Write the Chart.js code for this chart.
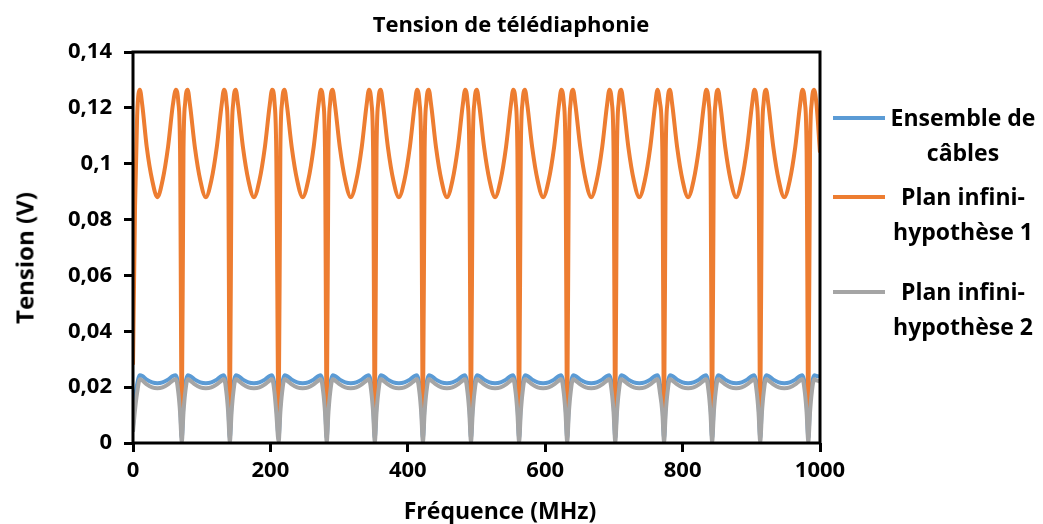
<!DOCTYPE html>
<html>
<head>
<meta charset="utf-8">
<script src="https://cdn.jsdelivr.net/npm/chart.js@4.4.1/dist/chart.umd.min.js"></script>
<style>
  body { margin: 0; background: #fff; }
  #wrap { position: relative; width: 1043px; height: 524px; font-family: 'Open Sans', sans-serif; font-weight: bold; color: #000; }
  #chart { position: absolute; left: 0; top: 0; }
  .txt { position: absolute; white-space: nowrap; }
  #title { left: 0; width: 1022px; top: 8px; text-align: center; font-size: 22px; }
  #xTitle { left: 0; width: 1000px; top: 494px; text-align: center; font-size: 23px; }
  #yTitle { left: 24px; top: 258px; font-size: 24px; transform: translate(-50%, -50%) rotate(-90deg); }
  .legItem { position: absolute; left: 833px; width: 210px; height: 80px; }
  .legLine { position: absolute; left: 0; width: 52px; height: 4px; }
  .legText { position: absolute; left: 50px; width: 160px; text-align: center; font-size: 23px; line-height: 35px; white-space: pre-line; }
</style>
</head>
<body>
<div id="wrap">
  <canvas id="chart" width="1043" height="524"></canvas>
  <div class="txt" id="title">Tension de télédiaphonie</div>
  <div class="txt" id="xTitle">Fréquence (MHz)</div>
  <div class="txt" id="yTitle">Tension (V)</div>
  <div id="legend"></div>
</div>
<script>
// Fréquence (MHz)
const freqMHz = [
  0, 3, 6, 10, 13.5, 20, 28, 35.5, 43, 51, 58, 62.5, 66, 68.5,
  71, 73.5, 76, 79.5, 83, 90, 98, 106, 114, 122, 129, 132.5, 136, 138.5,
  141, 143.5, 146, 149.5, 153, 160, 168, 176, 184, 192, 199, 202.5, 206, 208.5,
  212, 214.5, 217, 220.5, 224, 231, 239, 247, 255, 263, 270, 273.5, 277, 279.5,
  282, 284.5, 287, 290.5, 294, 301, 309, 317, 325, 333, 340, 343.5, 347, 349.5,
  352, 354.5, 357, 360.5, 364, 371, 379, 387, 395, 403, 410, 413.5, 417, 419.5,
  422, 424.5, 427, 430.5, 434, 441, 449, 457, 465, 473, 480, 483.5, 487, 489.5,
  492, 494.5, 497, 500.5, 504, 511, 519, 527, 535, 543, 550, 553.5, 557, 559.5,
  562, 564.5, 567, 570.5, 574, 581, 589, 597, 605, 613, 620, 623.5, 627, 629.5,
  632, 634.5, 637, 640.5, 644, 651, 659, 667, 675, 683, 690, 693.5, 697, 699.5,
  702, 704.5, 707, 710.5, 714, 721, 729, 737, 745, 753, 760, 763.5, 767, 770.5,
  773, 775.5, 778, 781.5, 785, 792, 800, 808, 816, 824, 831, 834.5, 838, 840.5,
  843, 845.5, 848, 851.5, 855, 862, 870, 878, 886, 894, 901, 904.5, 908, 910.5,
  913, 915.5, 918, 921.5, 925, 932, 940, 948, 956, 964, 971, 974.5, 978, 980.5,
  983, 985.5, 988, 991.5, 995, 1000
];

// Ensemble de câbles (V)
const ensembleCables = [
  0.006, 0.016, 0.021, 0.0243, 0.024, 0.0227, 0.0217, 0.0214, 0.0217, 0.0227, 0.024, 0.0243, 0.021, 0.015,
  0.002, 0.015, 0.021, 0.0243, 0.024, 0.0227, 0.0217, 0.0214, 0.0217, 0.0227, 0.024, 0.0243, 0.021, 0.015,
  0.002, 0.015, 0.021, 0.0243, 0.024, 0.0227, 0.0217, 0.0214, 0.0217, 0.0227, 0.024, 0.0243, 0.021, 0.015,
  0.002, 0.015, 0.021, 0.0243, 0.024, 0.0227, 0.0217, 0.0214, 0.0217, 0.0227, 0.024, 0.0243, 0.021, 0.015,
  0.002, 0.015, 0.021, 0.0243, 0.024, 0.0227, 0.0217, 0.0214, 0.0217, 0.0227, 0.024, 0.0243, 0.021, 0.015,
  0.002, 0.015, 0.021, 0.0243, 0.024, 0.0227, 0.0217, 0.0214, 0.0217, 0.0227, 0.024, 0.0243, 0.021, 0.015,
  0.002, 0.015, 0.021, 0.0243, 0.024, 0.0227, 0.0217, 0.0214, 0.0217, 0.0227, 0.024, 0.0243, 0.021, 0.015,
  0.002, 0.015, 0.021, 0.0243, 0.024, 0.0227, 0.0217, 0.0214, 0.0217, 0.0227, 0.024, 0.0243, 0.021, 0.015,
  0.002, 0.015, 0.021, 0.0243, 0.024, 0.0227, 0.0217, 0.0214, 0.0217, 0.0227, 0.024, 0.0243, 0.021, 0.015,
  0.002, 0.015, 0.021, 0.0243, 0.024, 0.0227, 0.0217, 0.0214, 0.0217, 0.0227, 0.024, 0.0243, 0.021, 0.015,
  0.002, 0.015, 0.021, 0.0243, 0.024, 0.0227, 0.0217, 0.0214, 0.0217, 0.0227, 0.024, 0.0243, 0.021, 0.015,
  0.002, 0.015, 0.021, 0.0243, 0.024, 0.0227, 0.0217, 0.0214, 0.0217, 0.0227, 0.024, 0.0243, 0.021, 0.015,
  0.002, 0.015, 0.021, 0.0243, 0.024, 0.0227, 0.0217, 0.0214, 0.0217, 0.0227, 0.024, 0.0243, 0.021, 0.015,
  0.002, 0.015, 0.021, 0.0243, 0.024, 0.0227, 0.0217, 0.0214, 0.0217, 0.0227, 0.024, 0.0243, 0.021, 0.015,
  0.002, 0.015, 0.021, 0.0243, 0.024, 0.0238
];

// Plan infini - hypothèse 1 (V)
const planHyp1 = [
  0.028, 0.085, 0.117, 0.1265, 0.121, 0.106, 0.094, 0.088, 0.094, 0.106, 0.121, 0.1265, 0.122, 0.105,
  0.005, 0.105, 0.122, 0.1265, 0.121, 0.106, 0.094, 0.088, 0.094, 0.106, 0.121, 0.1265, 0.122, 0.105,
  0.005, 0.105, 0.122, 0.1265, 0.121, 0.106, 0.094, 0.088, 0.094, 0.106, 0.121, 0.1265, 0.122, 0.105,
  0.005, 0.105, 0.122, 0.1265, 0.121, 0.106, 0.094, 0.088, 0.094, 0.106, 0.121, 0.1265, 0.122, 0.105,
  0.005, 0.105, 0.122, 0.1265, 0.121, 0.106, 0.094, 0.088, 0.094, 0.106, 0.121, 0.1265, 0.122, 0.105,
  0.005, 0.105, 0.122, 0.1265, 0.121, 0.106, 0.094, 0.088, 0.094, 0.106, 0.121, 0.1265, 0.122, 0.105,
  0.005, 0.105, 0.122, 0.1265, 0.121, 0.106, 0.094, 0.088, 0.094, 0.106, 0.121, 0.1265, 0.122, 0.105,
  0.005, 0.105, 0.122, 0.1265, 0.121, 0.106, 0.094, 0.088, 0.094, 0.106, 0.121, 0.1265, 0.122, 0.105,
  0.005, 0.105, 0.122, 0.1265, 0.121, 0.106, 0.094, 0.088, 0.094, 0.106, 0.121, 0.1265, 0.122, 0.105,
  0.005, 0.105, 0.122, 0.1265, 0.121, 0.106, 0.094, 0.088, 0.094, 0.106, 0.121, 0.1265, 0.122, 0.105,
  0.005, 0.105, 0.122, 0.1265, 0.121, 0.106, 0.094, 0.088, 0.094, 0.106, 0.121, 0.1265, 0.122, 0.105,
  0.005, 0.105, 0.122, 0.1265, 0.121, 0.106, 0.094, 0.088, 0.094, 0.106, 0.121, 0.1265, 0.122, 0.105,
  0.005, 0.105, 0.122, 0.1265, 0.121, 0.106, 0.094, 0.088, 0.094, 0.106, 0.121, 0.1265, 0.122, 0.105,
  0.005, 0.105, 0.122, 0.1265, 0.121, 0.106, 0.094, 0.088, 0.094, 0.106, 0.121, 0.1265, 0.122, 0.105,
  0.005, 0.105, 0.122, 0.1265, 0.121, 0.104
];

// Plan infini - hypothèse 2 (V)
const planHyp2 = [
  0.004, 0.012, 0.018, 0.0228, 0.0224, 0.021, 0.0199, 0.0196, 0.0199, 0.021, 0.0224, 0.0228, 0.018, 0.011,
  0.0005, 0.011, 0.018, 0.0228, 0.0224, 0.021, 0.0199, 0.0196, 0.0199, 0.021, 0.0224, 0.0228, 0.018, 0.011,
  0.0005, 0.011, 0.018, 0.0228, 0.0224, 0.021, 0.0199, 0.0196, 0.0199, 0.021, 0.0224, 0.0228, 0.018, 0.011,
  0.0005, 0.011, 0.018, 0.0228, 0.0224, 0.021, 0.0199, 0.0196, 0.0199, 0.021, 0.0224, 0.0228, 0.018, 0.011,
  0.0005, 0.011, 0.018, 0.0228, 0.0224, 0.021, 0.0199, 0.0196, 0.0199, 0.021, 0.0224, 0.0228, 0.018, 0.011,
  0.0005, 0.011, 0.018, 0.0228, 0.0224, 0.021, 0.0199, 0.0196, 0.0199, 0.021, 0.0224, 0.0228, 0.018, 0.011,
  0.0005, 0.011, 0.018, 0.0228, 0.0224, 0.021, 0.0199, 0.0196, 0.0199, 0.021, 0.0224, 0.0228, 0.018, 0.011,
  0.0005, 0.011, 0.018, 0.0228, 0.0224, 0.021, 0.0199, 0.0196, 0.0199, 0.021, 0.0224, 0.0228, 0.018, 0.011,
  0.0005, 0.011, 0.018, 0.0228, 0.0224, 0.021, 0.0199, 0.0196, 0.0199, 0.021, 0.0224, 0.0228, 0.018, 0.011,
  0.0005, 0.011, 0.018, 0.0228, 0.0224, 0.021, 0.0199, 0.0196, 0.0199, 0.021, 0.0224, 0.0228, 0.018, 0.011,
  0.0005, 0.011, 0.018, 0.0228, 0.0224, 0.021, 0.0199, 0.0196, 0.0199, 0.021, 0.0224, 0.0228, 0.018, 0.011,
  0.0005, 0.011, 0.018, 0.0228, 0.0224, 0.021, 0.0199, 0.0196, 0.0199, 0.021, 0.0224, 0.0228, 0.018, 0.011,
  0.0005, 0.011, 0.018, 0.0228, 0.0224, 0.021, 0.0199, 0.0196, 0.0199, 0.021, 0.0224, 0.0228, 0.018, 0.011,
  0.0005, 0.011, 0.018, 0.0228, 0.0224, 0.021, 0.0199, 0.0196, 0.0199, 0.021, 0.0224, 0.0228, 0.018, 0.011,
  0.0005, 0.011, 0.018, 0.0228, 0.0224, 0.022
];

const seriesNames = ['Ensemble de\ncâbles', 'Plan infini-\nhypothèse 1', 'Plan infini-\nhypothèse 2'];
const seriesColors = ['#5b9bd5', '#ed7d31', '#a5a5a5'];
const seriesValues = [ensembleCables, planHyp1, planHyp2];
const legendTops = [100, 179, 274];

function toPoints(values) {
    return freqMHz.map((f, i) => ({ x: f, y: values[i] }));
}

const frenchNum = v => Number(v.toFixed(2)).toString().replace('.', ',');

// cadre noir autour de la zone de tracé
const framePlugin = {
    id: 'frame',
    afterDatasetsDraw(chart) {
        const { ctx, chartArea: a } = chart;
        ctx.save();
        ctx.strokeStyle = '#000';
        ctx.lineWidth = 3;
        ctx.strokeRect(a.left, a.top, a.right - a.left, a.bottom - a.top);
        ctx.restore();
    }
};

const tickGrid = { display: true, drawOnChartArea: false, drawTicks: true, tickLength: 9, tickColor: '#000', tickWidth: 3 };
const tickFont = { family: "'Open Sans', sans-serif", size: 22, weight: 'bold' };

new Chart(document.getElementById('chart').getContext('2d'), {
    type: 'line',
    data: {
        datasets: seriesValues.map((vals, i) => ({
            label: seriesNames[i],
            data: toPoints(vals),
            borderColor: seriesColors[i],
            backgroundColor: seriesColors[i],
            borderWidth: 4,
            pointRadius: 0,
            cubicInterpolationMode: 'monotone',
            order: 3 - i
        }))
    },
    options: {
        responsive: false,
        animation: false,
        layout: { padding: { left: 0, right: 223, top: 52, bottom: 0 } },
        plugins: { legend: { display: false }, title: { display: false }, tooltip: { enabled: false } },
        scales: {
            x: {
                type: 'linear', min: 0, max: 1000,
                grid: tickGrid,
                border: { display: false },
                ticks: { stepSize: 200, color: '#000', font: tickFont, padding: 6, maxRotation: 0, callback: v => String(v) },
                afterFit(scale) { scale.height = 81; }
            },
            y: {
                min: 0, max: 0.14,
                grid: tickGrid,
                border: { display: false },
                ticks: { stepSize: 0.02, color: '#000', font: tickFont, padding: 12, callback: frenchNum },
                afterFit(scale) { scale.width = 133; }
            }
        }
    },
    plugins: [framePlugin]
});

// légende à droite, textes sur deux lignes
const legend = document.getElementById('legend');
seriesNames.forEach((name, i) => {
    const item = document.createElement('div');
    item.className = 'legItem';
    item.style.top = legendTops[i] + 'px';
    item.innerHTML = `<div class="legLine" style="top:16px;background:${seriesColors[i]}"></div><div class="legText">${name}</div>`;
    legend.appendChild(item);
});
</script>
</body>
</html>
